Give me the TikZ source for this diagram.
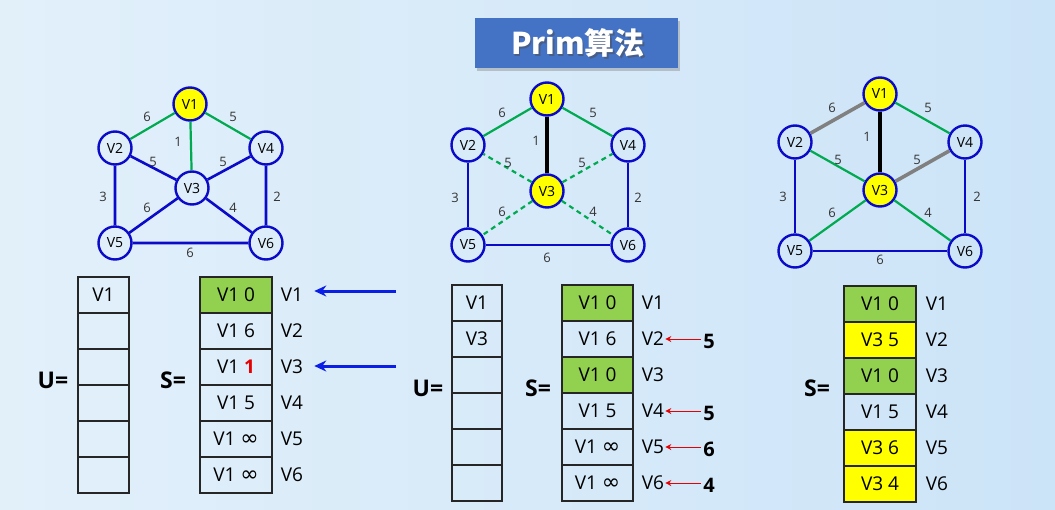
\documentclass[tikz,border=0pt]{standalone}
\usepackage{fontspec}
\setmainfont{Open Sans}
\newfontfamily\cjk{Noto Sans CJK SC}
\newfontfamily\djv{DejaVu Sans}
\newcommand{\inftyg}{{\djv\fontsize{22}{19}\selectfont ∞}}
\usetikzlibrary{arrows.meta,shadows}
\definecolor{bgA}{RGB}{226,240,250}
\definecolor{bgB}{RGB}{204,228,248}
\definecolor{gblue}{RGB}{10,10,200}
\definecolor{ggreen}{RGB}{0,170,80}
\definecolor{cgreen}{RGB}{146,208,80}
\definecolor{cyellow}{RGB}{255,255,0}
\definecolor{tblue}{RGB}{68,114,196}
\definecolor{ggray}{RGB}{128,128,128}
\definecolor{ared}{RGB}{230,0,0}
\tikzset{
  vtx/.style={circle,draw=gblue,line width=2.4pt,minimum size=33pt,inner sep=0pt,font=\fontsize{14}{14}\selectfont},
  vsel/.style={vtx,fill=cyellow},
  wlab/.style={inner sep=0pt,font=\fontsize{13}{13}\selectfont,text=black!80},
  eblue/.style={draw=gblue,line width=2.6pt},
  egreen/.style={draw=ggreen,line width=2.2pt},
  edash/.style={draw=ggreen,line width=2.2pt,dash pattern=on 5pt off 4pt},
  eblack/.style={draw=black,line width=3.6pt},
  egray/.style={draw=ggray,line width=3.6pt},
  ucell/.style={draw=black!85,line width=1.1pt,minimum width=51pt,minimum height=36pt,inner sep=0pt,font=\fontsize{19}{19}\selectfont},
  scell/.style={draw=black!85,line width=1.1pt,minimum width=72pt,minimum height=36pt,inner sep=0pt,font=\fontsize{19}{19}\selectfont},
  rlab/.style={inner sep=0pt,font=\fontsize{19}{19}\selectfont},
  eqlab/.style={inner sep=0pt,font=\fontsize{23}{23}\selectfont\bfseries},
  barrow/.style={draw={rgb,255:red,10;green,30;blue,230},line width=3pt,-{Stealth[length=12pt,width=11pt]}},
  rarrow/.style={draw=ared,line width=0.9pt,-{Stealth[length=6pt,width=6pt]}},
  rnum/.style={inner sep=0pt,font=\fontsize{20}{20}\selectfont\bfseries},
}
\begin{document}
\begin{tikzpicture}[x=1pt,y=-1pt]
\shade[left color=bgA,right color=bgB] (0,0) rectangle (1055,509);
\useasboundingbox (0,0) rectangle (1055,509);

% title
\node[fill=tblue,minimum width=203pt,minimum height=50pt,drop shadow={shadow xshift=2pt,shadow yshift=-3pt,opacity=0.4}] (title) at (576.5,43) {};
\node[text=black!70,opacity=0.5,font=\fontsize{30}{30}\selectfont\cjk\bfseries] (titsh) at (579.5,45) {Prim算法};
\node[text=white,font=\fontsize{30}{30}\selectfont\cjk\bfseries] (tit) at (578,43) {Prim算法};

% ---------- graph 1 ----------
\node[vsel] (a1) at (190,104) {V1};
\node[vtx] (a2) at (115,148) {V2};
\node[vtx] (a4) at (266,148) {V4};
\node[vtx] (a3) at (192,188) {V3};
\node[vtx] (a5) at (115,243) {V5};
\node[vtx] (a6) at (266,243) {V6};
\path[eblue] (a2)--(a3) (a4)--(a3) (a5)--(a3) (a6)--(a3) (a2)--(a5) (a4)--(a6) (a5)--(a6);
\path[egreen] (a1)--(a2) (a1)--(a4) (a1)--(a3);
\node[wlab] (a12) at (147,117) {6};
\node[wlab] (a14) at (233,117) {5};
\node[wlab] (a13) at (178,142) {1};
\node[wlab] (a23) at (153,162) {5};
\node[wlab] (a43) at (223,162) {5};
\node[wlab] (a25) at (103,197) {3};
\node[wlab] (a46) at (277,197) {2};
\node[wlab] (a53) at (147,208) {6};
\node[wlab] (a63) at (233,208) {4};
\node[wlab] (a56) at (190,253) {6};

% ---------- graph 2 ----------
\node[vsel] (b1) at (547,99) {V1};
\node[vtx] (b2) at (468,145) {V2};
\node[vtx] (b4) at (628,145) {V4};
\node[vsel] (b3) at (547,191) {V3};
\node[vtx] (b5) at (468,245) {V5};
\node[vtx] (b6) at (628,245) {V6};
\path[eblue] (b2)--(b5) (b4)--(b6) (b5)--(b6);
\path[egreen] (b1)--(b2) (b1)--(b4);
\path[edash] (b3)--(b2) (b3)--(b4) (b3)--(b5) (b3)--(b6);
\path[eblack] (b1)--(b3);
\node[wlab] (b12) at (502,113) {6};
\node[wlab] (b14) at (593,113) {5};
\node[wlab] (b13) at (536,141) {1};
\node[wlab] (b23) at (508,163) {5};
\node[wlab] (b43) at (582,163) {5};
\node[wlab] (b25) at (455,198) {3};
\node[wlab] (b46) at (638,198) {2};
\node[wlab] (b53) at (502,212) {6};
\node[wlab] (b63) at (593,212) {4};
\node[wlab] (b56) at (547,258) {6};

% ---------- graph 3 ----------
\node[vsel] (c1) at (880,94) {V1};
\node[vtx] (c2) at (795,142) {V2};
\node[vtx] (c4) at (965,142) {V4};
\node[vsel] (c3) at (880,190) {V3};
\node[vtx] (c5) at (795,251) {V5};
\node[vtx] (c6) at (965,251) {V6};
\path[eblue] (c2)--(c5) (c4)--(c6) (c5)--(c6);
\path[egreen] (c1)--(c4) (c3)--(c2) (c3)--(c5) (c3)--(c6);
\path[egray] (c1)--(c2) (c3)--(c4);
\path[eblack] (c1)--(c3);
\node[wlab] (c12) at (832,108) {6};
\node[wlab] (c14) at (928,108) {5};
\node[wlab] (c13) at (867,137) {1};
\node[wlab] (c23) at (838,160) {5};
\node[wlab] (c43) at (917,160) {5};
\node[wlab] (c25) at (783,197) {3};
\node[wlab] (c46) at (977,197) {2};
\node[wlab] (c53) at (832,213) {6};
\node[wlab] (c63) at (928,213) {4};
\node[wlab] (c56) at (880,260) {6};

% ---------- tables 1 ----------
\node[eqlab] (u1eq) at (53,380) {U=};
\node[eqlab] (s1eq) at (173,380) {S=};
\foreach \i/\t in {1/V1,2/,3/,4/,5/,6/}{
  \node[ucell] (u1r\i) at (103.5,{277+36*(\i-1)+18}) {\t};
}
\foreach \i/\t/\f in {1/{V1 0}/cgreen,2/{V1 6}/none,3/{V1 \textcolor{ared}{\textbf{1}}}/none,4/{V1 5}/none,5/{V1 \inftyg}/none,6/{V1 \inftyg}/none}{
  \node[scell,fill=\f] (s1r\i) at (236,{277+36*(\i-1)+18}) {\t};
  \node[rlab] (s1l\i) at (292,{277+36*(\i-1)+18}) {V\i};
}
\coordinate (ba1) at (396,291);
\coordinate (ba3) at (396,366);
\draw[barrow,shorten >=11pt] (ba1) -- (s1l1.east|-ba1);
\draw[barrow,shorten >=11pt] (ba3) -- (s1l3.east|-ba3);

% ---------- tables 2 ----------
\node[eqlab] (u2eq) at (428,388) {U=};
\node[eqlab] (s2eq) at (538,388) {S=};
\foreach \i/\t in {1/V1,2/V3,3/,4/,5/,6/}{
  \node[ucell,minimum width=50pt] (u2r\i) at (477,{285+36*(\i-1)+18}) {\t};
}
\foreach \i/\t/\f in {1/{V1 0}/cgreen,2/{V1 6}/none,3/{V1 0}/cgreen,4/{V1 5}/none,5/{V1 \inftyg}/none,6/{V1 \inftyg}/none}{
  \node[scell,minimum width=71pt,fill=\f] (s2r\i) at (597.5,{285+36*(\i-1)+18}) {\t};
  \node[rlab] (s2l\i) at (653,{285+36*(\i-1)+18}) {V\i};
}
\foreach \i/\n in {2/5,4/5,5/6,6/4}{
  \node[rnum] (r2n\i) at (709,{285+36*(\i-1)+20}) {\n};
  \draw[rarrow,shorten <=2pt,shorten >=1pt] (r2n\i.west|-s2l\i.east) -- (s2l\i.east);
}

% ---------- tables 3 ----------
\node[eqlab] (s3eq) at (817,388) {S=};
\foreach \i/\t/\f in {1/{V1 0}/cgreen,2/{V3 5}/cyellow,3/{V1 0}/cgreen,4/{V1 5}/none,5/{V3 6}/cyellow,6/{V3 4}/cyellow}{
  \node[scell,fill=\f] (s3r\i) at (880,{286+36*(\i-1)+18}) {\t};
  \node[rlab] (s3l\i) at (937,{286+36*(\i-1)+18}) {V\i};
}
\end{tikzpicture}
\end{document}
